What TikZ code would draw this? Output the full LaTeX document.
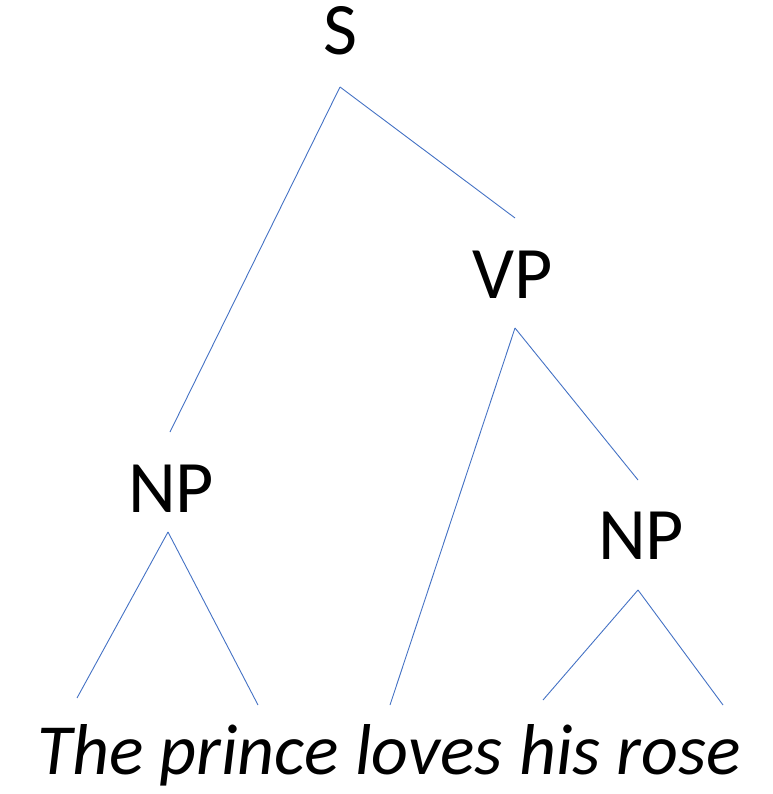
\documentclass[tikz,border=0pt]{standalone}
\usepackage{fontspec}
\setmainfont{Carlito}
\definecolor{edge}{HTML}{4472C4}
\begin{document}
\begin{tikzpicture}[x=1pt,y=-1pt,
  lab/.style={anchor=base,inner sep=0pt,font=\fontsize{74}{88}\selectfont},
  edgeline/.style={draw=edge,line width=0.9pt}]
\useasboundingbox (0,0) rectangle (772,794);
\node[lab] (S) at (340,55) {S};
\node[lab] (VP) at (513,298) {VP};
\node[lab] (NPa) at (171,512) {NP};
\node[lab] (NPb) at (641,559) {NP};
\node[lab,font=\fontsize{72}{86}\selectfont\itshape] (sent) at (389,774) {The prince loves his rose};
\coordinate (s0) at (340,87);
\coordinate (vpT) at (515,218);
\coordinate (vpB) at (515,328);
\coordinate (npaT) at (170,432);
\coordinate (npaB) at (168,532);
\coordinate (npbT) at (638,480);
\coordinate (npbB) at (638,590);
\coordinate (wThe) at (77,698);
\coordinate (wPrince) at (258,705);
\coordinate (wLoves) at (390,705);
\coordinate (wHis) at (543,700);
\coordinate (wRose) at (723,705);
\draw[edgeline] (s0) -- (npaT);
\draw[edgeline] (s0) -- (vpT);
\draw[edgeline] (vpB) -- (wLoves);
\draw[edgeline] (vpB) -- (npbT);
\draw[edgeline] (npaB) -- (wThe);
\draw[edgeline] (npaB) -- (wPrince);
\draw[edgeline] (npbB) -- (wHis);
\draw[edgeline] (npbB) -- (wRose);
\end{tikzpicture}
\end{document}
